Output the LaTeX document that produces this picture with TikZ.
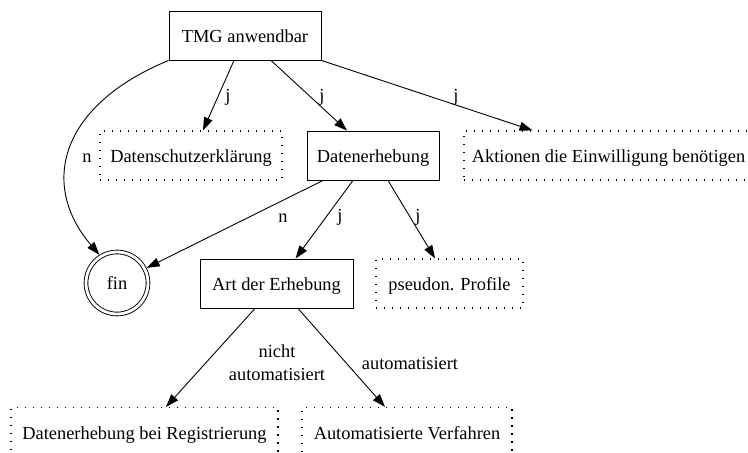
\documentclass[tikz,border=0pt]{standalone}
\usepackage{fontspec}
\setmainfont{Liberation Serif}
\usetikzlibrary{arrows.meta}
\begin{document}
\begin{tikzpicture}[
  x=1pt, y=-1pt,
  font=\fontsize{18.4}{22.4}\selectfont,
  shape base/.style={inner sep=0pt, text height=18pt, text depth=4pt, minimum height=49pt},
  solidbox/.style={shape base, draw, line width=0.9pt},
  dotbox/.style={shape base, draw, line width=1.2pt, dash pattern={on 1.2pt off 6.8pt}},
  final/.style={circle, draw, line width=0.9pt, double, double distance=2.8pt,
                minimum size=62pt, inner sep=0pt, outer sep=2.3pt},
  edge/.style={draw, line width=0.9pt, -{Triangle[length=13pt,width=9pt]}},
  lbl/.style={inner sep=0pt, anchor=base}
]
\useasboundingbox (0,0) rectangle (748,453);
\clip (0,0) rectangle (748,453);

% nodes
\node[solidbox, minimum width=152pt] (tmg) at (245,35.5) {TMG anwendbar};
\node[dotbox, minimum width=182pt]   (ds)  at (191,155.5) {Datenschutzerklärung};
\node[solidbox, minimum width=132pt] (de)  at (373,155.5) {Datenerhebung};
\node[dotbox, minimum width=289pt]   (ak)  at (608.5,155.5) {Aktionen die Einwilligung benötigen};
\node[final] (fin) at (117,283) {fin};
\node[solidbox, minimum width=153pt] (art) at (276.5,283.5) {Art der Erhebung};
\node[dotbox, minimum width=147pt]   (ps)  at (449.5,283.5) {pseudon. Profile};
\node[dotbox, minimum width=267pt]   (reg) at (144.5,432) {Datenerhebung bei Registrierung};
\node[dotbox, minimum width=210pt]   (aut) at (407,432) {Automatisierte Verfahren};

% connectors
\draw[edge] (tmg.south west) .. controls +(-109,45) and +(-60,-70) .. (fin.122);
\draw[edge] ([xshift=-11pt]tmg.south) -- ([xshift=12pt]ds.north);
\draw[edge] ([xshift=26pt]tmg.south) -- ([xshift=-26pt]de.north);
\draw[edge] (tmg.south east) -- ([xshift=-76pt]ak.north);
\draw[edge] ([xshift=-50pt]de.south) -- (fin.27);
\draw[edge] ([xshift=-20pt]de.south) -- ([xshift=19pt]art.north);
\draw[edge] ([xshift=15pt]de.south) -- ([xshift=-14.5pt]ps.north);
\draw[edge] ([xshift=-21.5pt]art.south) -- ([xshift=21.5pt]reg.north);
\draw[edge] ([xshift=21.5pt]art.south) -- ([xshift=-22pt]aut.north);

% connector labels
\node[lbl] (l1) at (87,162) {n};
\node[lbl] (l2) at (228,101) {j};
\node[lbl] (l3) at (322,101) {j};
\node[lbl] (l4) at (456,101) {j};
\node[lbl] (l5) at (283,222) {n};
\node[lbl] (l6) at (340,221) {j};
\node[lbl] (l7) at (418,221) {j};
\node[lbl, align=center] (l8) at (277,380) {nicht\\automatisiert};
\node[lbl] (l9) at (410,369) {automatisiert};
\end{tikzpicture}
\end{document}
